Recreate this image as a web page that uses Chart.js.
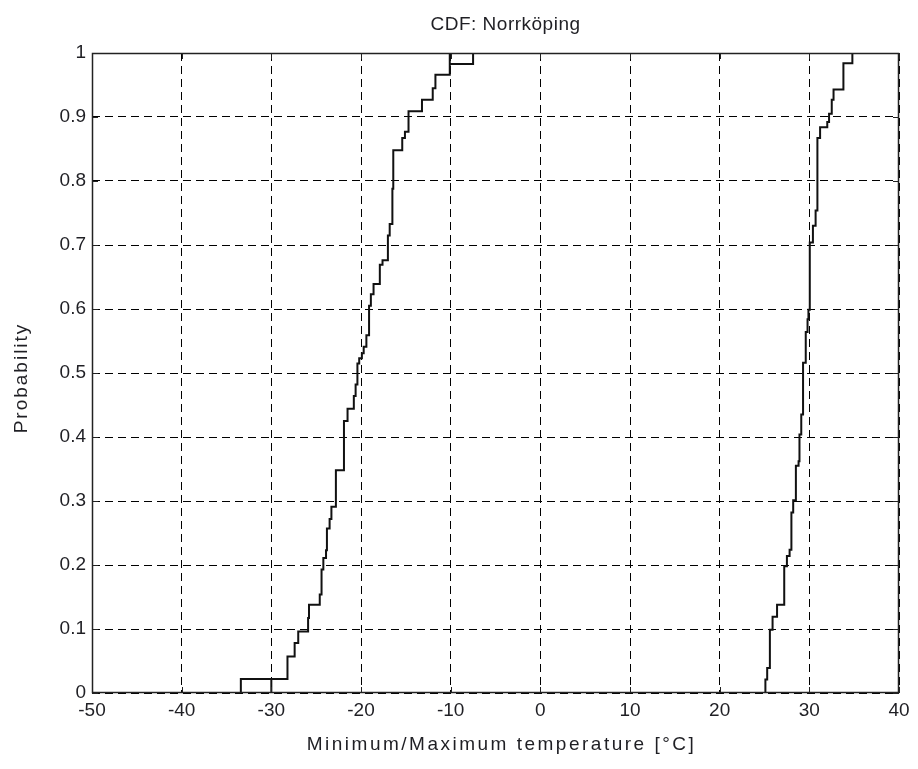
<!DOCTYPE html>
<html><head><meta charset="utf-8">
<script src="https://cdn.jsdelivr.net/npm/chart.js@4/dist/chart.umd.min.js"></script>
<style>html,body{margin:0;padding:0;background:#fff}#wrap{width:918px;height:769px}</style>
</head><body><div id="wrap"><canvas id="c" width="918" height="769"></canvas></div>
<script>
// Minimum temperature CDF (step vertices)
const minTemp = [-30, -30, -33.4, -33.4, -33.4, -28.2, -27.4, -27.0, -25.9, -25.8, -24.6, -24.4, -24.2, -23.9, -23.8, -23.5, -23.3, -22.8, -21.9, -21.5, -20.8, -20.6, -20.4, -20.2, -19.9, -19.7, -19.4, -19.1, -18.9, -18.6, -17.9, -17.6, -17.0, -16.8, -16.5, -16.4, -15.4, -15.1, -14.7, -13.2, -12.0, -11.7, -10.1, -10.1, -7.5];
const minProb = [0, 0.022, 0.022, 0, 0.022, 0.057, 0.078, 0.096, 0.117, 0.138, 0.154, 0.193, 0.211, 0.223, 0.257, 0.272, 0.291, 0.348, 0.425, 0.444, 0.464, 0.482, 0.515, 0.523, 0.531, 0.541, 0.559, 0.605, 0.623, 0.639, 0.669, 0.676, 0.715, 0.733, 0.788, 0.848, 0.867, 0.877, 0.909, 0.927, 0.945, 0.966, 1.0, 0.983, 1.0];
// Maximum temperature CDF
const maxTemp = [25.1, 25.1, 25.3, 25.6, 25.9, 26.4, 27.2, 27.5, 27.8, 28.0, 28.2, 28.5, 28.8, 28.9, 29.1, 29.3, 29.6, 29.8, 29.9, 30.05, 30.4, 30.7, 30.9, 31.2, 32.0, 32.2, 32.5, 32.7, 33.8, 34.8];
const maxProb = [0, 0.021, 0.039, 0.099, 0.119, 0.138, 0.198, 0.214, 0.224, 0.282, 0.301, 0.355, 0.362, 0.404, 0.435, 0.516, 0.564, 0.584, 0.599, 0.704, 0.730, 0.754, 0.867, 0.884, 0.892, 0.905, 0.927, 0.943, 0.984, 1.0];
const xTicks = [-50, -40, -30, -20, -10, 0, 10, 20, 30, 40];
const yTicks = [0, 0.1, 0.2, 0.3, 0.4, 0.5, 0.6, 0.7, 0.8, 0.9, 1];
const titleText = 'CDF: Norrköping';
const xTitle = 'Minimum/Maximum temperature [°C]';
const yTitle = 'Probability';

const FONT = '"Liberation Sans", Arial, sans-serif';
const TXT = '#1f1f24';

const pts = (xs, ys) => xs.map((x, i) => ({x, y: ys[i]}));

const framePlugin = {
  id: 'frame',
  afterDraw(chart) {
    const {ctx, chartArea: a, scales} = chart;
    ctx.save();
    ctx.strokeStyle = '#222';
    ctx.lineWidth = 1.5;
    ctx.setLineDash([]);
    ctx.strokeRect(a.left + 0.5, a.top + 0.5, a.right - a.left - 1, a.bottom - a.top - 1);
    ctx.lineWidth = 1;
    ctx.beginPath();
    const L = 6;
    xTicks.forEach(v => {
      const px = Math.round(scales.x.getPixelForValue(v)) + 0.5;
      ctx.moveTo(px, a.bottom); ctx.lineTo(px, a.bottom - L);
      ctx.moveTo(px, a.top); ctx.lineTo(px, a.top + L);
    });
    yTicks.forEach(v => {
      const py = Math.round(scales.y.getPixelForValue(v)) + 0.5;
      ctx.moveTo(a.left, py); ctx.lineTo(a.left + L, py);
      ctx.moveTo(a.right, py); ctx.lineTo(a.right - L, py);
    });
    ctx.stroke();
    // titles
    ctx.fillStyle = TXT;
    ctx.textAlign = 'center';
    ctx.textBaseline = 'middle';
    ctx.font = '19px ' + FONT;
    if ('letterSpacing' in ctx) ctx.letterSpacing = '0.5px';
    ctx.fillText(titleText, (a.left + a.right) / 2 + 10, 25);
    if ('letterSpacing' in ctx) ctx.letterSpacing = '2.5px';
    ctx.fillText(xTitle, (a.left + a.right) / 2 + 6, 745);
    ctx.save();
    ctx.translate(22, (a.top + a.bottom) / 2 + 5);
    ctx.rotate(-Math.PI / 2);
    if ('letterSpacing' in ctx) ctx.letterSpacing = '2px';
    ctx.fillText(yTitle, 0, 0);
    ctx.restore();
    ctx.restore();
  }
};

const lineStyle = {showLine: true, stepped: true, pointRadius: 0, borderColor: '#111', borderWidth: 2, fill: false, clip: 4};

new Chart(document.getElementById('c'), {
  type: 'scatter',
  data: {
    datasets: [
      Object.assign({label: 'Minimum', data: pts(minTemp, minProb)}, lineStyle),
      Object.assign({label: 'Maximum', data: pts(maxTemp, maxProb)}, lineStyle)
    ]
  },
  options: {
    responsive: false,
    animation: false,
    devicePixelRatio: 1,
    layout: {padding: {left: 0, top: 53, right: 19, bottom: 0}},
    plugins: {legend: {display: false}, tooltip: {enabled: false}, title: {display: false}},
    scales: {
      x: {
        type: 'linear', min: -50, max: 40,
        afterBuildTicks: s => { s.ticks = xTicks.map(v => ({value: v})); },
        afterFit: s => { s.height = 76; },
        grid: {color: '#000', lineWidth: 1, drawTicks: false},
        border: {display: false, dash: [8, 5]},
        ticks: {padding: 6, color: TXT, font: {family: FONT, size: 19}, maxRotation: 0, autoSkip: false,
          callback: v => String(v)}
      },
      y: {
        type: 'linear', min: 0, max: 1,
        afterBuildTicks: s => { s.ticks = yTicks.map(v => ({value: v})); },
        afterFit: s => { s.width = 92; },
        grid: {color: '#000', lineWidth: 1, drawTicks: false},
        border: {display: false, dash: [8, 5]},
        ticks: {padding: 6, color: TXT, font: {family: FONT, size: 19}, autoSkip: false,
          callback: v => String(Math.round(v * 10) / 10)}
      }
    }
  },
  plugins: [framePlugin]
});
</script>
</body></html>
